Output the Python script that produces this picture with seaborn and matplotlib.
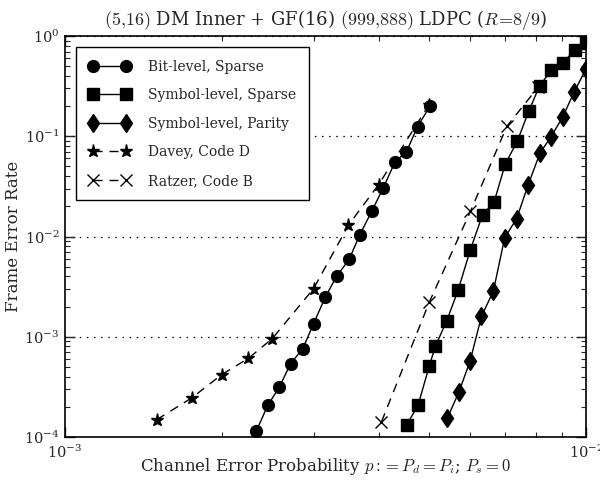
import numpy as np
import pandas as pd
import matplotlib
matplotlib.use("Agg")
import matplotlib.pyplot as plt
import matplotlib.ticker as mticker
import seaborn as sns

# values (p, FER)
bit_sparse_p = [2.33e-3, 2.45e-3, 2.58e-3, 2.71e-3, 2.86e-3, 3.0e-3, 3.16e-3, 3.32e-3,
                3.51e-3, 3.68e-3, 3.88e-3, 4.08e-3, 4.30e-3, 4.52e-3, 4.75e-3, 5.02e-3]
bit_sparse_fer = [1.15e-4, 2.07e-4, 3.16e-4, 5.4e-4, 7.6e-4, 1.35e-3, 2.49e-3, 4.0e-3,
                  5.9e-3, 1.04e-2, 1.79e-2, 3.04e-2, 5.55e-2, 6.97e-2, 0.125, 0.20]

sym_sparse_p = [4.53e-3, 4.76e-3, 5.0e-3, 5.14e-3, 5.40e-3, 5.68e-3, 6.0e-3, 6.33e-3, 6.66e-3,
                7.0e-3, 7.38e-3, 7.76e-3, 8.15e-3, 8.58e-3, 9.03e-3, 9.52e-3, 1.0e-2]
sym_sparse_fer = [1.33e-4, 2.07e-4, 5.07e-4, 8.07e-4, 1.43e-3, 2.9e-3, 7.4e-3, 1.65e-2, 2.2e-2,
                  5.3e-2, 8.9e-2, 0.177, 0.32, 0.455, 0.54, 0.73, 0.855]

sym_parity_p = [5.42e-3, 5.70e-3, 5.99e-3, 6.3e-3, 6.64e-3, 6.98e-3, 7.36e-3, 7.74e-3,
                8.16e-3, 8.57e-3, 9.03e-3, 9.49e-3, 1.0e-2]
sym_parity_fer = [1.55e-4, 2.8e-4, 5.7e-4, 1.6e-3, 2.85e-3, 9.7e-3, 1.51e-2, 3.25e-2,
                  6.8e-2, 0.099, 0.157, 0.277, 0.47]

davey_p = [1.5e-3, 1.75e-3, 2.0e-3, 2.25e-3, 2.5e-3, 3.0e-3, 3.5e-3, 4.0e-3, 5.0e-3]
davey_fer = [1.49e-4, 2.45e-4, 4.2e-4, 6.1e-4, 9.6e-4, 3.02e-3, 1.3e-2, 3.3e-2, 0.207]

ratzer_p = [4.05e-3, 5.0e-3, 6.0e-3, 7.05e-3, 8.1e-3]
ratzer_fer = [1.42e-4, 2.2e-3, 1.78e-2, 0.126, 0.31]

sns.set_style("ticks")
plt.rcParams['font.family'] = ['DejaVu Serif']
plt.rcParams['mathtext.fontset'] = 'cm'
plt.rcParams['xtick.direction'] = 'in'
plt.rcParams['ytick.direction'] = 'in'

fig = plt.figure(figsize=(6, 4.83), dpi=100)
ax = fig.add_axes([0.1083, 0.0952, 0.8684, 0.8303])

dash = (0, (6.5, 5))
series = [
    (bit_sparse_p, bit_sparse_fer, 'o', '-', 8.5, 'Bit-level, Sparse'),
    (sym_sparse_p, sym_sparse_fer, 's', '-', 8.5, 'Symbol-level, Sparse'),
    (sym_parity_p, sym_parity_fer, 'd', '-', 9.5, 'Symbol-level, Parity'),
    (davey_p, davey_fer, '*', dash, 9.5, 'Davey, Code D'),
    (ratzer_p, ratzer_fer, 'x', dash, 9, 'Ratzer, Code B'),
]
for xs, ys, mk, ls, ms, lab in series:
    sns.lineplot(x=xs, y=ys, ax=ax, color='k', marker=mk, linestyle=ls, ms=ms,
                 mec='k', mfc='k', mew=1.0, lw=1.0, label=lab, sort=False)

ax.set(xscale='log', yscale='log')
ax.set_xlim(1e-3, 1e-2)
ax.set_ylim(1e-4, 1)
ax.xaxis.set_minor_formatter(mticker.NullFormatter())
ax.yaxis.set_minor_formatter(mticker.NullFormatter())
ax.yaxis.grid(True, which='major', linestyle=(0, (1.2, 4.5)), color='k', lw=0.9)
ax.tick_params(which='both', top=True, right=True, direction='in', labelsize=10.5)
ax.tick_params(which='major', length=7, width=1, pad=5)
ax.tick_params(axis='y', which='major', pad=4)
ax.tick_params(which='minor', length=3.5, width=0.8)
for s in ax.spines.values():
    s.set_linewidth(1.2)
    s.set_color('k')

ax.set_title(r'$(5{,}16)$ DM Inner + GF(16) $(999{,}888)$ LDPC ($R\!=\!8/9$)', fontsize=13, pad=8)
ax.set_ylabel('Frame Error Rate', fontsize=12)
ax.yaxis.set_label_coords(-0.083, 0.5)
ax.set_xlabel(r'Channel Error Probability $p:=P_d=P_i$; $P_s=0$', fontsize=12)
ax.xaxis.set_label_coords(0.5, -0.048)

leg = ax.legend(loc='upper left', numpoints=2, fancybox=False, edgecolor='k', framealpha=1,
                fontsize=10, handlelength=3.0, labelspacing=1.05, borderpad=0.9,
                handletextpad=1.3, borderaxespad=0.8)
leg.get_frame().set_linewidth(1.0)

fig.savefig('out.png', dpi=100)
